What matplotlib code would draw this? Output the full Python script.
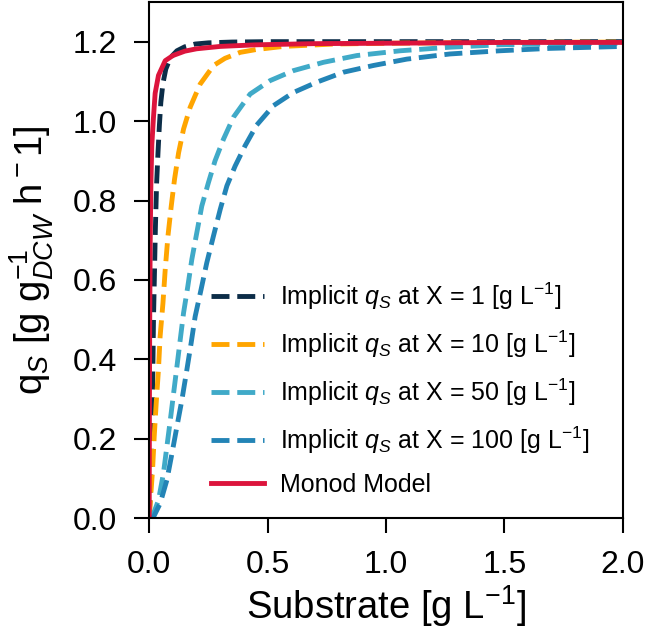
import matplotlib
matplotlib.use("Agg")
import matplotlib.pyplot as plt

plt.rcParams['font.family'] = ['Liberation Sans', 'DejaVu Sans']
plt.rcParams['mathtext.fontset'] = 'custom'
plt.rcParams['mathtext.rm'] = 'Liberation Sans'
plt.rcParams['mathtext.it'] = 'Liberation Sans:italic'
plt.rcParams['mathtext.bf'] = 'Liberation Sans:bold'

# values
s_x1 = [0, 0.005, 0.011, 0.015, 0.018, 0.0215, 0.026, 0.031, 0.037, 0.043, 0.049, 0.058,
        0.07, 0.09, 0.117, 0.15, 0.194, 0.25, 0.35, 0.5, 1.0, 1.5, 2.0]
q_x1 = [0, 0.07, 0.2, 0.36, 0.5, 0.6, 0.73, 0.84, 0.92, 0.99, 1.047, 1.095,
        1.131, 1.16, 1.177, 1.187, 1.194, 1.197, 1.199, 1.2, 1.2, 1.2, 1.2]

s_x10 = [0, 0.004, 0.014, 0.021, 0.0295, 0.039, 0.046, 0.058, 0.0675, 0.079, 0.093, 0.107,
         0.124, 0.145, 0.173, 0.215, 0.272, 0.32, 0.384, 0.45, 0.567, 0.78, 1.0, 1.5, 2.0]
q_x10 = [0, 0.037, 0.121, 0.205, 0.29, 0.374, 0.458, 0.542, 0.626, 0.71, 0.786, 0.854,
         0.92, 0.98, 1.035, 1.093, 1.14, 1.158, 1.173, 1.18, 1.188, 1.194, 1.196, 1.198, 1.199]

s_x50 = [0, 0.02, 0.039, 0.06, 0.0745, 0.089, 0.103, 0.117, 0.131, 0.145, 0.163, 0.18,
         0.201, 0.222, 0.25, 0.278, 0.314, 0.356, 0.426, 0.511, 0.609, 0.736, 0.877, 1.06,
         1.27, 1.48, 1.76, 2.0]
q_x50 = [0, 0.015, 0.045, 0.113, 0.18, 0.247, 0.315, 0.382, 0.45, 0.517, 0.584, 0.652,
         0.719, 0.786, 0.845, 0.9, 0.955, 1.01, 1.068, 1.102, 1.127, 1.148, 1.165, 1.177,
         1.186, 1.192, 1.195, 1.196]

s_x100 = [0, 0.018, 0.046, 0.0745, 0.096, 0.117, 0.138, 0.159, 0.177, 0.194, 0.219, 0.243,
          0.271, 0.3, 0.328, 0.363, 0.405, 0.454, 0.525, 0.609, 0.708, 0.82, 0.947, 1.088,
          1.27, 1.48, 1.69, 2.0]
q_x100 = [0, 0.003, 0.037, 0.096, 0.163, 0.231, 0.298, 0.374, 0.441, 0.508, 0.576, 0.643,
          0.71, 0.778, 0.837, 0.887, 0.938, 0.99, 1.039, 1.072, 1.098, 1.123, 1.14, 1.156,
          1.169, 1.177, 1.183, 1.188]

s_monod = [0, 0.001, 0.002, 0.004, 0.007, 0.011, 0.018, 0.025, 0.039, 0.0675, 0.1, 0.15,
           0.2, 0.3, 0.45, 0.7, 1.0, 1.5, 2.0]
q_monod = [0, 0.30, 0.48, 0.69, 0.84, 0.94, 1.01, 1.07, 1.115, 1.152, 1.165, 1.176,
           1.182, 1.188, 1.192, 1.195, 1.196, 1.198, 1.198]

biomass = [1, 10, 50, 100]
colors = ['#0c2d48', '#ffa500', '#40aac8', '#2384b6']

fig = plt.figure(figsize=(6.46, 6.43), dpi=100)
ax = fig.add_axes([0.231, 0.194, 0.733, 0.803])

curves = [(s_x1, q_x1), (s_x10, q_x10), (s_x50, q_x50), (s_x100, q_x100)]
for (s, q), x, c in zip(curves, biomass, colors):
    ax.plot(s, q, '--', color=c, lw=3.5,
            label=r'Implicit $q_S$ at X = %d [g L$^{-1}$]' % x)
ax.plot(s_monod, q_monod, '-', color='#dc143c', lw=3.5, label='Monod Model')

ax.set_xlim(0, 2.0)
ax.set_ylim(0, 1.3)
ax.set_xticks([0, 0.5, 1.0, 1.5, 2.0])
ax.set_yticks([0, 0.2, 0.4, 0.6, 0.8, 1.0, 1.2])

for sp in ax.spines.values():
    sp.set_linewidth(1.5)
ax.tick_params(labelsize=23, length=11, width=1.5, pad=12)

ax.set_xlabel(r'Substrate [g L$^{-1}$]', fontsize=27.5, labelpad=2)
ax.set_ylabel(r'q$_S$ [g g$^{-1}_{DCW}$ h$^-1$]', fontsize=27.5, labelpad=12)

ax.legend(loc='lower left', bbox_to_anchor=(0.083, -0.002), frameon=False, fontsize=18,
          handlelength=2.1, handletextpad=0.64, labelspacing=0.67)

fig.savefig('out.png', dpi=100)
